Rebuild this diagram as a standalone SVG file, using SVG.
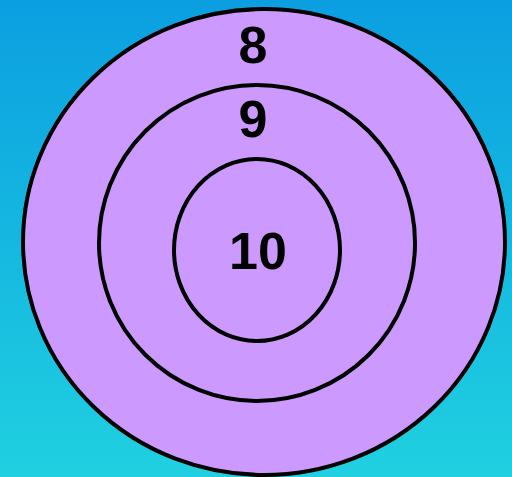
<svg xmlns="http://www.w3.org/2000/svg" width="512" height="477" viewBox="0 0 512 477">
<defs>
<linearGradient id="bg" x1="0" y1="0" x2="0" y2="1">
<stop offset="0" stop-color="#0b9fe1"/>
<stop offset="1" stop-color="#20d0e0"/>
</linearGradient>
</defs>
<style>
.ring{fill:#cc99ff;stroke:#000;stroke-width:4}
.lbl{font-family:"Liberation Sans",Arial,sans-serif;font-weight:bold;font-size:52px;fill:#000;text-anchor:middle}
</style>
<rect width="512" height="477" fill="url(#bg)"/>
<g id="ring8"><ellipse class="ring" cx="264" cy="242" rx="241" ry="233"/><text class="lbl" x="253" y="63">8</text></g>
<g id="ring9"><ellipse class="ring" cx="257" cy="243" rx="158" ry="158"/><text class="lbl" x="253" y="137">9</text></g>
<g id="ring10"><ellipse class="ring" cx="257" cy="250" rx="83" ry="91"/><text class="lbl" x="258" y="269">10</text></g>
<g id="connectors"/>
</svg>
